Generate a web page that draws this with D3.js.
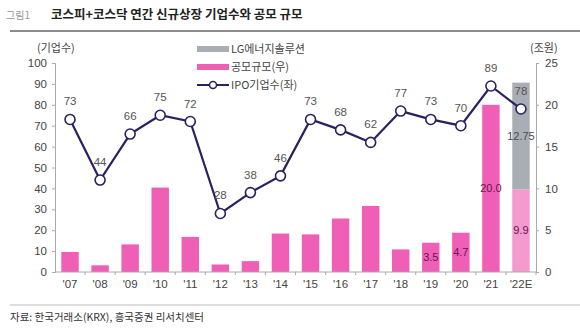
<!DOCTYPE html>
<html>
<head>
<meta charset="utf-8">
<script src="https://cdn.jsdelivr.net/npm/d3@7"></script>
<style>
  body { margin: 0; background: #fff; }
  svg text { font-family: "Liberation Sans", "Noto Sans CJK KR", sans-serif; }
  .kr { font-family: "Noto Sans CJK KR", sans-serif; }
</style>
</head>
<body>
<svg id="chart" width="580" height="332"></svg>
<script>
// data
var years = ["'07", "'08", "'09", "'10", "'11", "'12", "'13", "'14", "'15", "'16", "'17", "'18", "'19", "'20", "'21", "'22E"];
var ipoCount = [73, 44, 66, 75, 72, 28, 38, 46, 73, 68, 62, 77, 73, 70, 89, 78];
var offerSize = [2.4, 0.8, 3.3, 10.1, 4.2, 0.9, 1.3, 4.6, 4.5, 6.4, 7.9, 2.7, 3.5, 4.7, 20.0, 9.9];
var lgesSize = [0, 0, 0, 0, 0, 0, 0, 0, 0, 0, 0, 0, 0, 0, 0, 12.75];
var sizeLabels = ["", "", "", "", "", "", "", "", "", "", "", "", "3.5", "4.7", "20.0", "9.9"];
var lgesLabels = ["", "", "", "", "", "", "", "", "", "", "", "", "", "", "", "12.75"];
var leftTicks = [0, 10, 20, 30, 40, 50, 60, 70, 80, 90, 100];
var rightTicks = [0, 5, 10, 15, 20, 25];

var svg = d3.select("#chart");

var x = d3.scaleBand().domain(years).range([55, 536]).paddingInner(0.42).paddingOuter(0.21);
var xPos = d3.scalePoint().domain(years).range([55, 536]).padding(0.5);
var yL = d3.scaleLinear().domain([0, 100]).range([272, 63]);
var yR = d3.scaleLinear().domain([0, 25]).range([272, 63]);

// title
svg.append("text").attr("class", "kr").attr("x", 6).attr("y", 19)
    .attr("font-size", 10).attr("fill", "#999").text("그림1");
svg.append("text").attr("class", "kr").attr("x", 51).attr("y", 19)
    .attr("font-size", 12.5).attr("font-weight", "bold").attr("fill", "#222")
    .text("코스피+코스닥 연간 신규상장 기업수와 공모 규모");
svg.append("line").attr("x1", 10).attr("x2", 580).attr("y1", 31).attr("y2", 31)
    .attr("stroke", "#8c8c8c").attr("stroke-width", 2);

// bars
svg.append("g").selectAll("rect.size")
    .data(offerSize)
    .enter().append("rect")
    .attr("x", function (d, i) { return x(years[i]); })
    .attr("y", function (d) { return yR(d); })
    .attr("width", x.bandwidth())
    .attr("height", function (d) { return yR(0) - yR(d); })
    .attr("fill", function (d, i) { return i == years.length - 1 ? "#f39bce" : "#ef5fb6"; });

svg.append("g").selectAll("rect.lg")
    .data(lgesSize)
    .enter().append("rect")
    .attr("x", function (d, i) { return x(years[i]); })
    .attr("y", function (d, i) { return yR(d + offerSize[i]); })
    .attr("width", x.bandwidth())
    .attr("height", function (d) { return yR(0) - yR(d); })
    .attr("fill", "#a9aeb4");

// bar labels
svg.append("g").selectAll("text")
    .data(sizeLabels)
    .enter().append("text")
    .attr("x", function (d, i) { return xPos(years[i]); })
    .attr("y", function (d, i) { return yR(offerSize[i] / 2); })
    .attr("dy", "0.35em")
    .attr("text-anchor", "middle")
    .attr("font-size", 11)
    .attr("fill", "#6a1450")
    .text(function (d) { return d; });

svg.append("g").selectAll("text")
    .data(lgesLabels)
    .enter().append("text")
    .attr("x", function (d, i) { return xPos(years[i]); })
    .attr("y", function (d, i) { return yR(offerSize[i] + lgesSize[i] / 2); })
    .attr("dy", "0.35em")
    .attr("text-anchor", "middle")
    .attr("font-size", 11)
    .attr("fill", "#4a4a4a")
    .text(function (d) { return d; });

// axes
var axisL = d3.axisLeft(yL).tickValues(leftTicks).tickSize(3).tickPadding(5);
var gL = svg.append("g").attr("transform", "translate(55,0)").call(axisL);
var axisR = d3.axisRight(yR).tickValues(rightTicks).tickSize(3).tickPadding(6);
var gR = svg.append("g").attr("transform", "translate(536,0)").call(axisR);
var axisX = d3.axisBottom(x).tickSize(0).tickPadding(8);
var gX = svg.append("g").attr("transform", "translate(0,272)").call(axisX);
gX.selectAll(".tick").append("line")
    .attr("x1", x.step() / 2).attr("x2", x.step() / 2)
    .attr("y1", 0).attr("y2", 3)
    .attr("stroke", "#aaa");

[gL, gR, gX].forEach(function (g) {
    g.select(".domain").attr("stroke", "#aaa");
    g.selectAll(".tick line").attr("stroke", "#aaa");
    g.selectAll(".tick text").attr("fill", "#444").attr("font-size", 11.5)
        .style("font-family", "'Liberation Sans', sans-serif");
});
gX.select(".domain").attr("d", "M55,0H536");

svg.append("text").attr("class", "kr").attr("x", 37).attr("y", 52)
    .attr("font-size", 11).attr("fill", "#444").text("(기업수)");
svg.append("text").attr("class", "kr").attr("x", 530).attr("y", 52)
    .attr("font-size", 11).attr("fill", "#444").text("(조원)");

// line
var line = d3.line()
    .x(function (d, i) { return xPos(years[i]); })
    .y(function (d) { return yL(d); });

svg.append("path").datum(ipoCount)
    .attr("d", line)
    .attr("fill", "none")
    .attr("stroke", "#2b2160")
    .attr("stroke-width", 2.2);

svg.append("g").selectAll("circle")
    .data(ipoCount)
    .enter().append("circle")
    .attr("cx", function (d, i) { return xPos(years[i]); })
    .attr("cy", function (d) { return yL(d); })
    .attr("r", 5)
    .attr("fill", "#fff")
    .attr("stroke", "#2b2160")
    .attr("stroke-width", 1.6);

svg.append("g").selectAll("text")
    .data(ipoCount)
    .enter().append("text")
    .attr("x", function (d, i) { return xPos(years[i]); })
    .attr("y", function (d) { return yL(d) - 14; })
    .attr("text-anchor", "middle")
    .attr("font-size", 11.5)
    .attr("fill", "#555")
    .text(function (d) { return d; });

// legend
var legend = svg.append("g");
legend.append("rect").attr("x", 197).attr("y", 46).attr("width", 32).attr("height", 6).attr("fill", "#a9aeb4");
legend.append("text").attr("class", "kr").attr("x", 231).attr("y", 53).attr("font-size", 11).attr("fill", "#444").text("LG에너지솔루션");
legend.append("rect").attr("x", 197).attr("y", 64).attr("width", 32).attr("height", 6).attr("fill", "#ef5fb6");
legend.append("text").attr("class", "kr").attr("x", 231).attr("y", 71).attr("font-size", 11).attr("fill", "#444").text("공모규모(우)");
legend.append("line").attr("x1", 197).attr("x2", 229).attr("y1", 85).attr("y2", 85).attr("stroke", "#2b2160").attr("stroke-width", 2);
legend.append("circle").attr("cx", 213).attr("cy", 85).attr("r", 3.5).attr("fill", "#fff").attr("stroke", "#2b2160").attr("stroke-width", 1.5);
legend.append("text").attr("class", "kr").attr("x", 231).attr("y", 89).attr("font-size", 11).attr("fill", "#444").text("IPO기업수(좌)");

// footer
svg.append("line").attr("x1", 10).attr("x2", 580).attr("y1", 305).attr("y2", 305)
    .attr("stroke", "#bbb").attr("stroke-width", 1);
svg.append("text").attr("class", "kr").attr("x", 10).attr("y", 321)
    .attr("font-size", 10.5).attr("fill", "#333")
    .text("자료: 한국거래소(KRX), 흥국증권 리서치센터");
</script>
</body>
</html>
